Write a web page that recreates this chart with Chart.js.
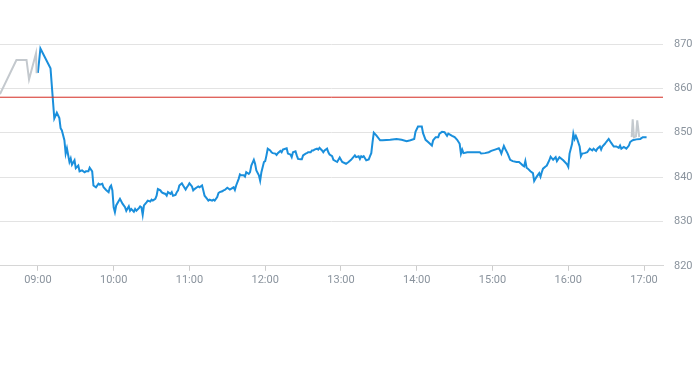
<!DOCTYPE html>
<html>
<head>
<meta charset="utf-8">
<script src="https://cdn.jsdelivr.net/npm/chart.js@4/dist/chart.umd.min.js"></script>
<style>
  html, body { margin: 0; padding: 0; background: #ffffff; }
  #wrap { width: 693px; height: 365px; position: relative; }
</style>
</head>
<body>
<div id="wrap"><canvas id="c"></canvas></div>
<script>
// minutes after 09:00
const blueTimes = [0,2,10,13,15,17,18,19,21,22,23,25,26,27,29,30,32,33,35,37,38,40,41,43,44,46,48,49,51,52,54,56,57,58,59,60,61,62,65,67,69,70,72,73,74,76,77,78,80,81,82,83,84,86,87,89,90,91,93,94,95,97,98,99,101,102,103,105,106,107,109,110,111,112,114,115,117,118,119,120,122,123,124,126,127,128,130,131,132,134,135,136,138,139,140,142,143,144,146,147,148,150,152,155,156,157,159,160,161,163,164,165,167,168,169,171,172,173,175,176,177,179,180,181,182,184,185,186,188,189,190,192,193,194,196,197,198,200,201,202,204,205,206,208,209,210,212,213,214,216,217,218,219,221,222,223,225,226,227,229,230,231,233,234,237,239,241,244,246,248,251,252,254,255,256,257,258,260,262,263,264,265,266,268,271,273,279,284,288,292,295,298,299,301,304,305,307,309,312,313,315,317,318,320,322,324,325,328,330,332,334,335,336,337,340,342,345,347,350,351,354,357,359,362,365,366,367,369,370,372,374,376,379,381,383,384,385,386,387,388,390,392,393,394,395,397,398,399,400,402,403,405,406,408,410,411,413,416,419,420,421,423,424,425,426,427,429,430,431,433,435,437,439,440,442,443,445,446,447,449,450,452,454,456,458,460,461,462,464,466,468,469,471,474,477,479,482];
const blueValues = [863.5,869.0,864.5,853.2,854.5,853.3,851.0,850.5,848.3,845.3,846.5,843.4,844.2,842.8,843.8,842.0,842.6,841.3,841.5,841.1,841.3,841.3,842.1,841.3,838.1,837.7,838.5,838.3,838.5,837.7,837.1,836.6,837.7,838.1,837.0,833.2,832.1,833.6,835.1,834.0,833.2,832.4,833.4,832.4,832.8,832.2,832.8,832.4,833.0,833.4,833.2,831.5,833.6,834.3,834.7,834.5,834.9,834.7,835.1,835.8,837.3,837.0,836.6,836.4,836.2,835.8,836.6,836.2,836.6,835.8,836.0,836.6,837.0,838.1,838.6,838.1,837.2,837.7,838.1,838.6,837.9,837.0,837.3,837.7,837.9,837.7,838.1,837.0,835.8,835.1,834.7,834.9,834.7,834.9,834.7,835.5,836.4,836.6,836.8,837.0,837.1,837.6,837.2,837.7,837.1,838.1,839.6,840.6,840.4,840.4,840.1,841.1,840.7,841.1,842.6,843.9,843.0,841.5,840.4,839.2,841.1,843.4,843.6,844.9,846.4,846.0,845.6,845.4,845.3,845.0,845.4,845.9,845.6,846.2,846.4,846.5,845.3,845.1,844.5,845.6,845.8,844.9,844.1,844.0,844.0,844.9,845.3,845.4,845.6,845.6,846.0,846.0,846.2,846.4,846.2,846.6,846.0,845.6,846.0,846.4,845.6,845.1,844.7,843.9,843.4,844.4,843.4,843.0,843.4,843.9,844.9,844.5,844.7,844.1,844.7,844.5,844.7,843.8,844.0,844.7,845.4,847.9,850.0,849.4,848.3,848.3,848.4,848.6,848.4,848.1,848.3,848.6,850.2,851.4,851.4,849.9,848.4,847.9,847.1,848.3,849.0,849.0,849.8,850.2,850.1,849.3,849.8,849.3,849.0,848.4,847.5,845.3,846.2,845.4,845.6,845.6,845.6,845.6,845.6,845.3,845.4,845.6,845.9,846.2,846.5,846.0,845.3,847.0,846.4,845.3,843.9,843.6,843.4,843.4,842.9,842.6,842.4,843.6,842.1,841.9,841.3,840.9,839.1,839.6,840.1,840.9,840.1,841.1,841.9,842.4,842.6,843.8,844.6,843.9,844.5,843.6,844.5,843.8,842.9,842.3,845.3,847.5,849.8,848.6,849.3,848.6,846.9,844.7,845.3,845.4,845.6,846.4,846.0,846.4,845.9,846.4,846.9,846.2,846.9,847.5,847.9,848.6,847.7,846.9,846.9,846.6,847.1,846.4,846.8,846.4,847.1,847.9,848.3,848.5,848.6,849.0,849.0];

const preTimes = [-30, -17, -9, -7, -1.5, -1];
const preValues = [858.7, 866.4, 866.4, 862.0, 867.9, 863.4];

const postTimes = [470.2, 471, 472, 473.6, 474.6, 476.2];
const postValues = [849.0, 853.0, 849.0, 849.2, 852.8, 849.0];

const refPrice = 858;

const xMin = -30, xMax = 495;
const tickMinutes = [0, 60, 120, 180, 240, 300, 360, 420, 480];
const tickLabels = ['09:00','10:00','11:00','12:00','13:00','14:00','15:00','16:00','17:00'];
const yTicks = [820, 830, 840, 850, 860, 870];

const zip = (xs, ys) => xs.map((x, i) => ({ x: x, y: ys[i] }));

const lineBase = { pointRadius: 0, pointHoverRadius: 0, tension: 0, fill: false };

new Chart(document.getElementById('c'), {
  type: 'line',
  data: {
    datasets: [
      Object.assign({ data: [{ x: xMin, y: refPrice }, { x: xMax, y: refPrice }], borderColor: '#d42a20', borderWidth: 1 }, lineBase),
      Object.assign({ data: zip(preTimes, preValues), borderColor: '#c4c9ce', borderWidth: 2 }, lineBase),
      Object.assign({ data: zip(blueTimes, blueValues), borderColor: '#1a8fdc', borderWidth: 2 }, lineBase),
      Object.assign({ data: zip(postTimes, postValues), borderColor: '#c4c9ce', borderWidth: 2 }, lineBase)
    ]
  },
  options: {
    responsive: true,
    maintainAspectRatio: false,
    animation: false,
    layout: { padding: { top: 44, right: 0, bottom: 75, left: 0 } },
    plugins: { legend: { display: false }, tooltip: { enabled: false } },
    scales: {
      x: {
        type: 'linear',
        min: xMin,
        max: xMax,
        afterBuildTicks: (axis) => { axis.ticks = tickMinutes.map(v => ({ value: v })); },
        grid: { drawOnChartArea: false, drawTicks: true, tickLength: 5, color: '#cccccc' },
        border: { display: true, color: '#d6d6d6' },
        ticks: {
          autoSkip: false,
          maxRotation: 0,
          padding: 3,
          color: '#8a939d',
          font: { family: 'Roboto', size: 11 },
          callback: (v) => { const i = tickMinutes.indexOf(v); return i >= 0 ? tickLabels[i] : ''; }
        }
      },
      y: {
        position: 'right',
        min: 820,
        max: 870,
        afterBuildTicks: (axis) => { axis.ticks = yTicks.map(v => ({ value: v })); },
        afterFit: (axis) => { axis.width = 30; },
        grid: { color: '#e3e3e3', drawTicks: false },
        border: { display: false },
        ticks: {
          padding: 11,
          color: '#8a939d',
          font: { family: 'Roboto', size: 11 }
        }
      }
    }
  }
});
</script>
</body>
</html>
